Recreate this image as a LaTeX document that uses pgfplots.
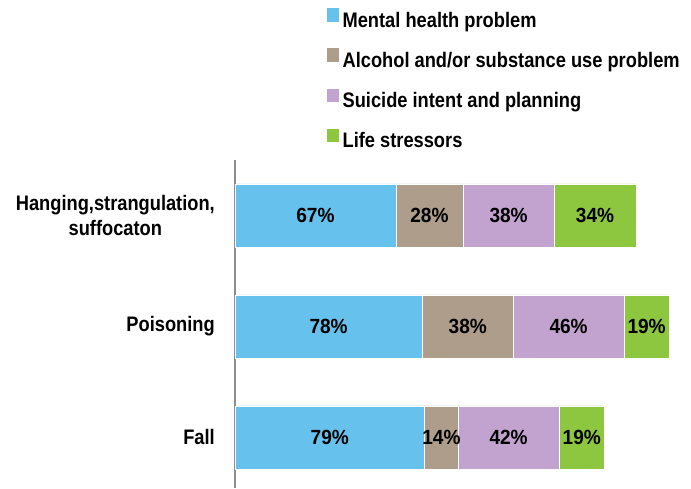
\documentclass[border=0pt]{standalone}
\usepackage{pgfplots}
\pgfplotsset{compat=1.18}
\usepackage{fontspec}
\setmainfont{Liberation Sans Bold}[FakeStretch=0.87]
\newfontfamily\pctfont{Liberation Sans Bold}[FakeStretch=0.93]
\definecolor{cblue}{RGB}{102,194,236}
\definecolor{ctaupe}{RGB}{174,157,138}
\definecolor{clav}{RGB}{194,163,207}
\definecolor{cgreen}{RGB}{141,198,63}
\definecolor{caxis}{RGB}{140,140,140}
\begin{document}
\begin{tikzpicture}
\path[use as bounding box] (-235pt,-1pt) rectangle (456pt,488pt);
\begin{axis}[
  at={(0pt,0pt)}, anchor=south west,
  scale only axis, width=456pt, height=328pt,
  xbar stacked, bar width=63pt,
  xmin=0, xmax=190, ymin=-0.455, ymax=2.5,
  axis x line=none, axis y line*=left,
  y axis line style={caxis, line width=1.5pt},
  ytick={0,1,2},
  yticklabels={Fall,Poisoning,{Hanging,strangulation,\\suffocaton}},
  major tick length=0pt,
  yticklabel style={font=\fontsize{21}{25}\selectfont, align=center, inner sep=0pt, xshift=-20pt, text=black},
  legend style={at={(0.2018,1.4634)}, anchor=north west, draw=none, fill=none,
    inner sep=0pt, font=\fontsize{21}{24}\selectfont,
    nodes={inner sep=0pt, text height=15pt, text depth=4pt},
    row sep=17pt, column sep=4pt},
  legend cell align=left,
]
\addplot[fill=cblue, draw=white, line width=0.4pt,
  legend image code/.code={\fill[cblue] (0pt,1pt) rectangle (11pt,13.5pt);}]
  coordinates {(79,0) (78,1) (67,2)};
\addplot[fill=ctaupe, draw=white, line width=0.4pt,
  legend image code/.code={\fill[ctaupe] (0pt,1pt) rectangle (11pt,13.5pt);}]
  coordinates {(14,0) (38,1) (28,2)};
\addplot[fill=clav, draw=white, line width=0.4pt,
  legend image code/.code={\fill[clav] (0pt,1pt) rectangle (11pt,13.5pt);}]
  coordinates {(42,0) (46,1) (38,2)};
\addplot[fill=cgreen, draw=white, line width=0.4pt,
  legend image code/.code={\fill[cgreen] (0pt,1pt) rectangle (11pt,13.5pt);}]
  coordinates {(19,0) (19,1) (34,2)};
\legend{Mental health problem, Alcohol and/or substance use problem, Suicide intent and planning, Life stressors}
\end{axis}
\begin{axis}[
  at={(0pt,0pt)}, anchor=south west,
  scale only axis, width=456pt, height=328pt,
  xmin=0, xmax=190, ymin=-0.455, ymax=2.5,
  hide axis, clip=false,
]
\addplot[draw=none, mark=none, point meta=explicit symbolic,
  nodes near coords={\pgfplotspointmeta\%},
  nodes near coords style={anchor=center, inner sep=0pt, font=\pctfont\fontsize{20.5}{24}\selectfont, text=black}]
  coordinates {
    (39.5,0) [79] (86,0) [14] (114,0) [42] (144.5,0) [19]
    (39,1) [78] (97,1) [38] (139,1) [46] (171.5,1) [19]
    (33.5,2) [67] (81,2) [28] (114,2) [38] (150,2) [34]
  };
\end{axis}
\end{tikzpicture}
\end{document}
